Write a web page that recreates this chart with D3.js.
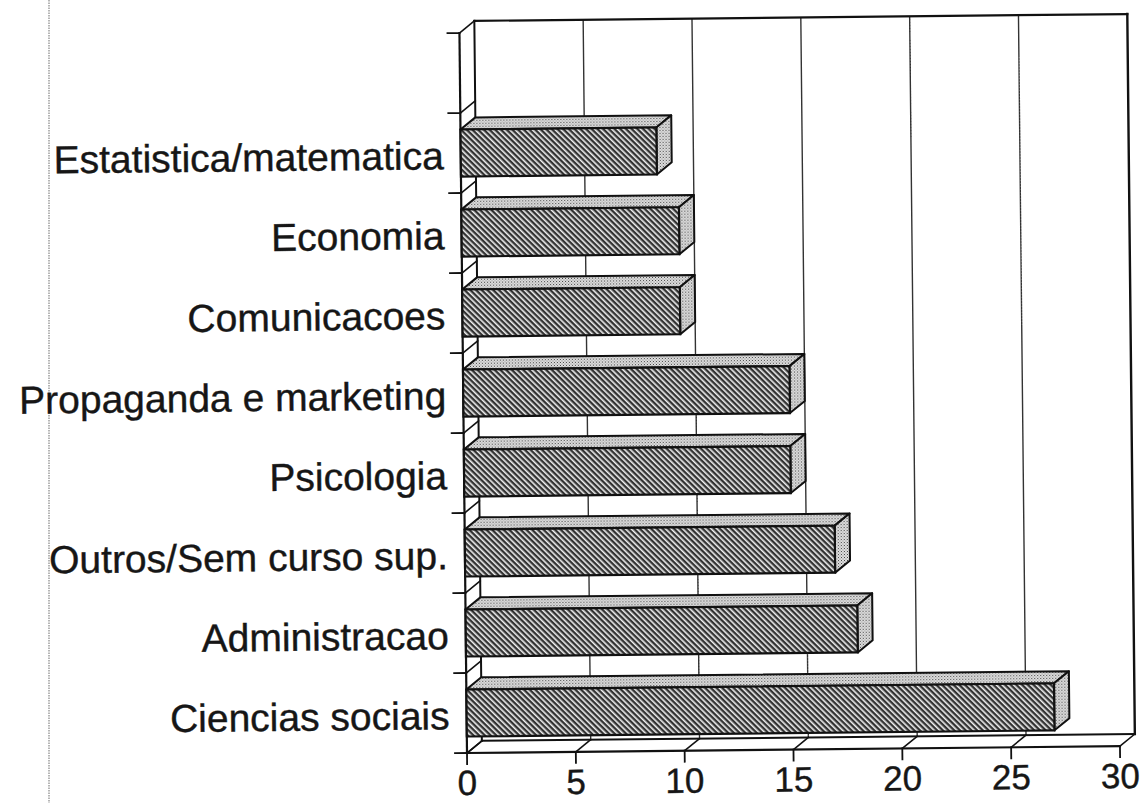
<!DOCTYPE html>
<html>
<head>
<meta charset="utf-8">
<script src="https://cdn.jsdelivr.net/npm/d3@7"></script>
<style>
  html, body { margin: 0; padding: 0; background: #fff; }
  svg { display: block; }
  text { font-family: "Liberation Sans", Arial, Helvetica, sans-serif; fill: #161616; stroke: #161616; stroke-width: 0.4; }
</style>
</head>
<body>
<svg id="chart" width="1147" height="803"></svg>
<script>
// ---- data (top to bottom as drawn) ----
const categories = [
  "Estatistica/matematica",
  "Economia",
  "Comunicacoes",
  "Propaganda e marketing",
  "Psicologia",
  "Outros/Sem curso sup.",
  "Administracao",
  "Ciencias sociais"
];
const values = [9, 10, 10, 15, 15, 17, 18, 27];
const xTicks = [0, 5, 10, 15, 20, 25, 30];

const svg = d3.select("#chart");
const W = 1147, H = 803;

// layout
const x0 = 467, x1 = 1120;       // front axis extent
const yBottom = 753, yTop = 33;  // front left axis extent
const DX = 15, DY = -12;         // depth offset

const x = d3.scaleLinear().domain([0, 30]).range([x0, x1]);
// nine slots: one empty slot on top, then the eight categories
const slots = ["__empty__"].concat(categories);
const yBand = d3.scaleBand().domain(slots).range([yTop, yBottom]).paddingInner(0).paddingOuter(0);
const yBar = d3.scaleBand().domain(categories).range([yTop + yBand.step(), yBottom])
  .paddingInner(33 / 80).paddingOuter(33 / 160).align(0.5);

// patterns
const defs = svg.append("defs");
const hatch = defs.append("pattern").attr("id", "hatch")
  .attr("patternUnits", "userSpaceOnUse").attr("width", 4).attr("height", 4)
  .attr("patternTransform", "rotate(-45)");
hatch.append("rect").attr("width", 4).attr("height", 4).attr("fill", "#333");
hatch.append("rect").attr("x", 0).attr("y", 0).attr("width", 1.6).attr("height", 4).attr("fill", "#f0f0f0");

const stip = defs.append("pattern").attr("id", "stip")
  .attr("patternUnits", "userSpaceOnUse").attr("width", 3).attr("height", 3);
stip.append("rect").attr("width", 3).attr("height", 3).attr("fill", "#e2e2e2");
stip.append("rect").attr("x", 0).attr("y", 0).attr("width", 1).attr("height", 1).attr("fill", "#3c3c3c");
stip.append("rect").attr("x", 1.5).attr("y", 1.5).attr("width", 1).attr("height", 1).attr("fill", "#6a6a6a");

// scan-edge line at far left
svg.append("line").attr("x1", 49).attr("x2", 49).attr("y1", 0).attr("y2", H)
  .attr("stroke", "#b5b5b5").attr("stroke-width", 2).attr("stroke-dasharray", "1.5,1");

const g = svg.append("g").attr("transform", `rotate(-0.6, ${x0}, ${yBottom})`);

const line = (x1_, y1_, x2_, y2_, w = 2, col = "#111", dash = null) => {
  const l = g.append("line").attr("x1", x1_).attr("y1", y1_).attr("x2", x2_).attr("y2", y2_)
    .attr("stroke", col).attr("stroke-width", w).attr("stroke-linecap", "square");
  if (dash) l.attr("stroke-dasharray", dash);
  return l;
};

// back wall gridlines
xTicks.filter(t => t > 0 && t < 30).forEach(t => {
  line(x(t) + DX, yBottom + DY, x(t) + DX, yTop + DY, 1.4, "#333", "2,1");
});
// back wall frame
line(x0 + DX, yTop + DY, x1 + DX, yTop + DY, 2.2);
line(x1 + DX, yTop + DY, x1 + DX, yBottom + DY, 2.4);
line(x0 + DX, yTop + DY, x0 + DX, yBottom + DY, 2);
line(x0 + DX, yBottom + DY, x1 + DX, yBottom + DY, 2);

// left side wall: front axis + band ticks with depth diagonals
line(x0, yTop, x0, yBottom, 2.2);
slots.concat(["__end__"]).forEach((s, i) => {
  const yy = yTop + i * yBand.step();
  line(x0 - 12, yy, x0, yy, 1.8);
  line(x0, yy, x0 + DX, yy + DY, 1.6);
});

// floor: front x axis, ticks and depth diagonals
line(x0, yBottom, x1, yBottom, 2.2);
xTicks.forEach(t => {
  line(x(t), yBottom, x(t), yBottom + 11, 1.8);
  line(x(t), yBottom, x(t) + DX, yBottom + DY, 1.6);
});

// tick labels
g.selectAll("text.tick").data(xTicks).join("text")
  .attr("class", "tick")
  .attr("x", d => x(d)).attr("y", 795)
  .attr("text-anchor", "middle")
  .attr("font-size", 35)
  .text(d => d);

// category labels
g.selectAll("text.cat").data(categories).join("text")
  .attr("class", "cat")
  .attr("x", 450)
  .attr("y", d => yBar(d) + yBar.bandwidth() / 2 + 16)
  .attr("text-anchor", "end")
  .attr("font-size", 39)
  .text(d => d);

// bars
categories.forEach((c, i) => {
  const v = values[i];
  const xa = x(0), xb = x(v);
  const yt = yBar(c), yb = yt + yBar.bandwidth();
  const bg = g.append("g");
  // top face
  bg.append("path")
    .attr("d", `M${xa},${yt} L${xa + DX},${yt + DY} L${xb + DX},${yt + DY} L${xb},${yt} Z`)
    .attr("fill", "url(#stip)").attr("stroke", "#111").attr("stroke-width", 2).attr("stroke-linejoin", "round");
  // right face
  bg.append("path")
    .attr("d", `M${xb},${yt} L${xb + DX},${yt + DY} L${xb + DX},${yb + DY} L${xb},${yb} Z`)
    .attr("fill", "url(#stip)").attr("stroke", "#111").attr("stroke-width", 2).attr("stroke-linejoin", "round");
  // front face
  bg.append("rect")
    .attr("x", xa).attr("y", yt).attr("width", xb - xa).attr("height", yb - yt)
    .attr("fill", "url(#hatch)").attr("stroke", "#111").attr("stroke-width", 2.2);
});
</script>
</body>
</html>
